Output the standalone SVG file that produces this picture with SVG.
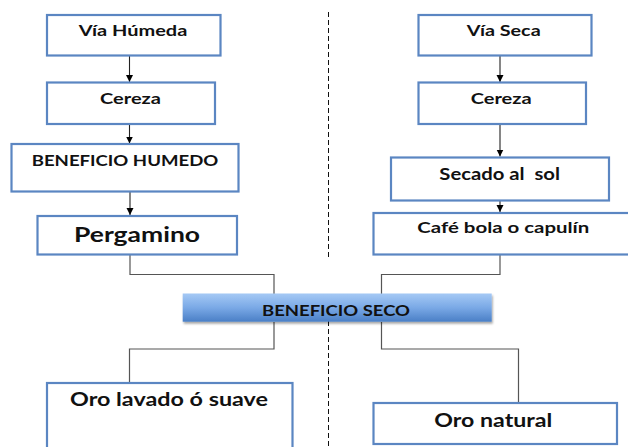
<svg xmlns="http://www.w3.org/2000/svg" width="628" height="447" viewBox="0 0 628 447">
<defs>
<linearGradient id="g" x1="0" y1="0" x2="0" y2="1">
<stop offset="0" stop-color="#a5c9f5"/>
<stop offset="0.5" stop-color="#7aa9e6"/>
<stop offset="1" stop-color="#4a7fc6"/>
</linearGradient>
<filter id="sh" x="-10%" y="-20%" width="120%" height="150%">
<feDropShadow dx="1" dy="2" stdDeviation="1.2" flood-color="#000" flood-opacity="0.35"/>
</filter>
<marker id="ar" markerWidth="8" markerHeight="8" refX="7" refY="4" orient="auto" markerUnits="userSpaceOnUse">
<path d="M0,0.5 L7,4 L0,7.5 Z" fill="#000"/>
</marker>
</defs>
<style>
.b{fill:#fff;stroke:#5b86c2;stroke-width:2.2}
.t{font-family:Lato,"Liberation Sans",sans-serif;font-weight:bold;fill:#111;text-anchor:middle}
.c{fill:none;stroke:#555;stroke-width:1.2}
.a{fill:none;stroke:#222;stroke-width:1.1;marker-end:url(#ar)}
.d{fill:none;stroke:#111;stroke-width:1;stroke-dasharray:5 3}
</style>
<rect width="628" height="447" fill="#fff"/>
<g id="divider">
<line class="d" x1="328.5" y1="12" x2="328.5" y2="259"/>
<line class="d" x1="328.5" y1="321" x2="328.5" y2="447"/>
</g>
<g id="connectors">
<line class="a" x1="129.5" y1="55.5" x2="129.5" y2="82"/>
<line class="a" x1="129.5" y1="124" x2="129.5" y2="143.5"/>
<line class="a" x1="130" y1="192" x2="130" y2="215"/>
<line class="a" x1="500" y1="55.5" x2="500" y2="82"/>
<line class="a" x1="500" y1="124" x2="500" y2="156.5"/>
<line class="a" x1="500" y1="201" x2="500" y2="212"/>
<polyline class="c" points="130,254.5 130,274.5 274,274.5 274,294"/>
<polyline class="c" points="500,254.5 500,274.5 381.5,274.5 381.5,294"/>
<polyline class="c" points="274,322 274,349 129.5,349 129.5,382"/>
<polyline class="c" points="381.5,322 381.5,349 518.5,349 518.5,402"/>
</g>
<g id="via-humeda"><rect class="b" x="47" y="15" width="173.5" height="40.5"/><text class="t" x="133" y="36" font-size="16" textLength="108.6" lengthAdjust="spacingAndGlyphs">Vía Húmeda</text></g>
<g id="cereza-1"><rect class="b" x="47" y="82.5" width="168" height="41.5"/><text class="t" x="130.5" y="104.3" font-size="16" textLength="61" lengthAdjust="spacingAndGlyphs">Cereza</text></g>
<g id="beneficio-humedo"><rect class="b" x="11.5" y="144" width="227" height="47.5"/><text class="t" x="125" y="166" font-size="15" textLength="186.6" lengthAdjust="spacingAndGlyphs">BENEFICIO HUMEDO</text></g>
<g id="pergamino"><rect class="b" x="37.5" y="216" width="199.5" height="38.5"/><text class="t" x="137" y="241.7" font-size="20" textLength="126" lengthAdjust="spacingAndGlyphs">Pergamino</text></g>
<g id="via-seca"><rect class="b" x="418.5" y="15" width="173" height="40.5"/><text class="t" x="503.7" y="36" font-size="16" textLength="74" lengthAdjust="spacingAndGlyphs">Vía Seca</text></g>
<g id="cereza-2"><rect class="b" x="418.5" y="82.5" width="167.5" height="41.5"/><text class="t" x="501.2" y="104.3" font-size="16" textLength="61" lengthAdjust="spacingAndGlyphs">Cereza</text></g>
<g id="secado"><rect class="b" x="391" y="157.5" width="218" height="43"/><text class="t" x="499.7" y="180" font-size="17" textLength="120.7" xml:space="preserve" lengthAdjust="spacingAndGlyphs">Secado al  sol</text></g>
<g id="cafe-bola"><rect class="b" x="373.5" y="213" width="260" height="41.5"/><text class="t" x="503.3" y="233.3" font-size="16" textLength="172" lengthAdjust="spacingAndGlyphs">Café bola  o capulín</text></g>
<g id="beneficio-seco"><rect x="182.7" y="293.5" width="309" height="28.2" fill="url(#g)" filter="url(#sh)"/><text class="t" x="336" y="315.7" font-size="15.5" textLength="148" lengthAdjust="spacingAndGlyphs">BENEFICIO SECO</text></g>
<g id="oro-lavado"><rect class="b" x="47" y="383" width="245.5" height="70"/><text class="t" x="169" y="406" font-size="19" textLength="198" lengthAdjust="spacingAndGlyphs">Oro lavado ó suave</text></g>
<g id="oro-natural"><rect class="b" x="373.5" y="403" width="243.5" height="41"/><text class="t" x="493.3" y="427.3" font-size="19.5" textLength="118" lengthAdjust="spacingAndGlyphs">Oro natural</text></g>
</svg>
